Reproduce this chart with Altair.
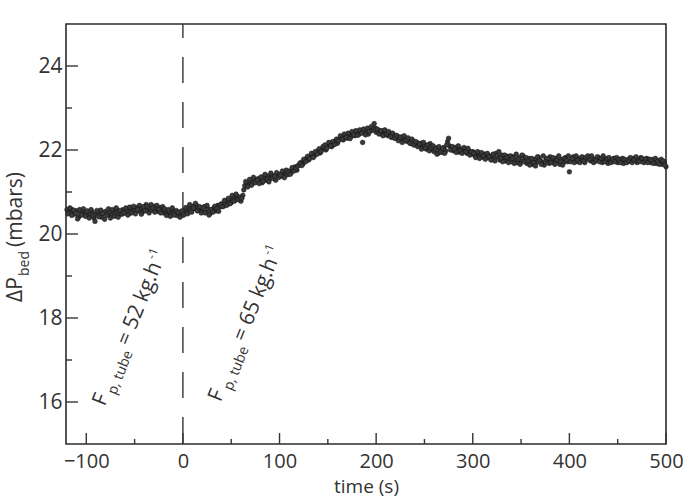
import altair as alt
import pandas as pd

# ---- data ----
# samples on even seconds
time_even = list(range(-120, 501, 2))
dp_even = [
    20.58, 20.55, 20.60, 20.52, 20.47, 20.55, 20.40, 20.50, 20.53, 20.46,
    20.50, 20.42, 20.48, 20.53, 20.38, 20.47, 20.52, 20.45, 20.40, 20.50,
    20.54, 20.46, 20.51, 20.44, 20.55, 20.49, 20.57, 20.46, 20.52, 20.58,
    20.50, 20.55, 20.48, 20.60, 20.53, 20.57, 20.63, 20.55, 20.60, 20.52,
    20.62, 20.70, 20.58, 20.64, 20.56, 20.66, 20.60, 20.54, 20.63, 20.57,
    20.50, 20.56, 20.48, 20.53, 20.46, 20.55, 20.50, 20.44, 20.52, 20.47,
    20.50, 20.58, 20.52, 20.62, 20.55, 20.66, 20.60, 20.68, 20.57, 20.63,
    20.55, 20.65, 20.52, 20.60, 20.48, 20.57, 20.62, 20.55, 20.68, 20.64,
    20.72, 20.66, 20.78, 20.70, 20.82, 20.75, 20.86, 20.80, 20.90, 20.84,
    20.78, 20.92, 21.15, 21.22, 21.18, 21.26, 21.20, 21.30, 21.24, 21.32,
    21.27, 21.22, 21.35, 21.28, 21.38, 21.31, 21.40, 21.34, 21.28, 21.42,
    21.36, 21.44, 21.38, 21.46, 21.41, 21.50, 21.45, 21.55, 21.60, 21.52,
    21.64, 21.70, 21.66, 21.74, 21.80, 21.76, 21.84, 21.90, 21.86, 21.94,
    21.98, 21.93, 22.02, 22.06, 22.00, 22.10, 22.14, 22.08, 22.18, 22.22,
    22.16, 22.26, 22.30, 22.24, 22.33, 22.28, 22.36, 22.32, 22.40, 22.34,
    22.42, 22.37, 22.44, 22.18, 22.40, 22.46, 22.38, 22.45, 22.50, 22.63,
    22.42, 22.48, 22.40, 22.45, 22.36, 22.42, 22.34, 22.40, 22.30, 22.36,
    22.28, 22.33, 22.25, 22.31, 22.22, 22.28, 22.20, 22.25, 22.15, 22.22,
    22.12, 22.18, 22.10, 22.16, 22.06, 22.12, 22.02, 22.08, 22.15, 22.00,
    21.96, 22.05, 21.92, 22.00, 21.94, 22.06, 21.98, 22.20, 22.10, 22.04,
    21.98, 22.06, 22.00, 21.95, 22.03, 21.97, 22.02, 21.92, 21.98, 21.90,
    21.96, 21.87, 21.93, 21.85, 21.91, 21.83, 21.90, 21.82, 21.88, 21.80,
    21.86, 21.78, 21.92, 21.84, 21.76, 21.88, 21.80, 21.74, 21.85, 21.78,
    21.72, 21.84, 21.76, 21.70, 21.82, 21.74, 21.86, 21.77, 21.68, 21.80,
    21.73, 21.66, 21.78, 21.70, 21.83, 21.75, 21.69, 21.64, 21.78, 21.72,
    21.84, 21.76, 21.70, 21.80, 21.74, 21.66, 21.78, 21.70, 21.82, 21.72,
    21.48, 21.76, 21.84, 21.78, 21.72, 21.80, 21.75, 21.82, 21.70, 21.78,
    21.84, 21.74, 21.80, 21.72, 21.78, 21.82, 21.76, 21.70, 21.79, 21.74,
    21.68, 21.76, 21.72, 21.80, 21.74, 21.70, 21.78, 21.73, 21.68, 21.76,
    21.71, 21.78, 21.73, 21.80, 21.75, 21.70, 21.78, 21.82, 21.76, 21.72,
    21.80, 21.74, 21.70, 21.77, 21.73, 21.68, 21.75, 21.70, 21.66, 21.72,
    21.60,
]
# samples on odd seconds
time_odd = list(range(-119, 500, 2))
dp_odd = [
    20.48, 20.62, 20.44, 20.57, 20.50, 20.36, 20.58, 20.45, 20.60, 20.42,
    20.55, 20.38, 20.58, 20.43, 20.30, 20.56, 20.41, 20.57, 20.49, 20.35,
    20.44, 20.60, 20.38, 20.58, 20.42, 20.62, 20.40, 20.56, 20.47, 20.50,
    20.62, 20.45, 20.64, 20.50, 20.66, 20.48, 20.58, 20.68, 20.47, 20.65,
    20.55, 20.66, 20.50, 20.70, 20.62, 20.52, 20.68, 20.58, 20.50, 20.65,
    20.60, 20.44, 20.58, 20.42, 20.62, 20.45, 20.56, 20.52, 20.40, 20.55,
    20.45, 20.63, 20.48, 20.70, 20.52, 20.62, 20.73, 20.55, 20.65, 20.50,
    20.62, 20.50, 20.68, 20.45, 20.58, 20.52, 20.66, 20.60, 20.54, 20.70,
    20.65, 20.80, 20.68, 20.85, 20.72, 20.92, 20.78, 20.95, 20.82, 20.88,
    20.85, 21.05, 21.25, 21.12, 21.30, 21.16, 21.35, 21.22, 21.28, 21.20,
    21.36, 21.25, 21.42, 21.30, 21.24, 21.45, 21.33, 21.38, 21.46, 21.35,
    21.40, 21.50, 21.34, 21.52, 21.47, 21.42, 21.58, 21.50, 21.56, 21.62,
    21.68, 21.63, 21.78, 21.72, 21.85, 21.79, 21.92, 21.82, 21.96, 21.90,
    22.03, 21.96, 22.08, 22.12, 22.04, 22.18, 22.10, 22.20, 22.13, 22.26,
    22.22, 22.34, 22.26, 22.38, 22.30, 22.40, 22.27, 22.44, 22.36, 22.46,
    22.35, 22.48, 22.40, 22.50, 22.36, 22.52, 22.44, 22.56, 22.47, 22.52,
    22.50, 22.38, 22.46, 22.34, 22.48, 22.38, 22.44, 22.32, 22.40, 22.28,
    22.35, 22.22, 22.30, 22.18, 22.34, 22.24, 22.29, 22.16, 22.26, 22.12,
    22.20, 22.08, 22.14, 22.02, 22.18, 22.05, 22.12, 21.98, 22.06, 22.10,
    22.02, 21.90, 22.08, 21.96, 22.04, 21.92, 22.12, 22.28, 22.00, 22.08,
    22.02, 21.94, 22.10, 21.98, 21.92, 22.06, 21.96, 22.04, 21.88, 21.95,
    21.92, 21.82, 21.96, 21.80, 21.94, 21.86, 21.78, 21.92, 21.84, 21.76,
    21.90, 21.74, 21.86, 21.96, 21.80, 21.72, 21.88, 21.82, 21.70, 21.86,
    21.80, 21.68, 21.90, 21.78, 21.66, 21.88, 21.72, 21.82, 21.74, 21.64,
    21.80, 21.70, 21.62, 21.84, 21.74, 21.66, 21.86, 21.72, 21.80, 21.68,
    21.70, 21.82, 21.66, 21.76, 21.86, 21.72, 21.64, 21.80, 21.76, 21.86,
    21.72, 21.80, 21.70, 21.86, 21.76, 21.70, 21.84, 21.74, 21.82, 21.86,
    21.78, 21.86, 21.70, 21.76, 21.84, 21.72, 21.80, 21.86, 21.72, 21.80,
    21.82, 21.70, 21.78, 21.72, 21.82, 21.76, 21.70, 21.80, 21.78, 21.70,
    21.76, 21.82, 21.70, 21.77, 21.84, 21.74, 21.72, 21.80, 21.70, 21.78,
    21.70, 21.78, 21.76, 21.68, 21.80, 21.72, 21.66, 21.78, 21.74, 21.64,
]
assert len(time_even) == len(dp_even)
assert len(time_odd) == len(dp_odd)

x_major = [-100, 0, 100, 200, 300, 400, 500]
x_minor = [-50, 50, 150, 250, 350, 450]
y_major = [16, 18, 20, 22, 24]
y_minor = [17, 19, 21, 23]
switch_time = [0]

ann_labels = ["52", "65"]
ann_t = [-81, 39]
ann_v = [15.88, 15.98]

W, H = 600, 420
FONT = "Open Sans"
INK = "#333333"

xs = alt.Scale(domain=[-121, 500], nice=False, zero=False)
ys = alt.Scale(domain=[15, 25], nice=False, zero=False)

x_axis = alt.Axis(values=x_major, ticks=False, domain=False, grid=False,
                  labelFontSize=20, labelPadding=7, labelFlush=False,
                  title="time (s)", titleFontSize=19, titlePadding=6,
                  titleFontWeight="normal")
y_axis = alt.Axis(values=y_major, ticks=False, domain=False, grid=False,
                  labelFontSize=21, labelPadding=4, labelFlush=False,
                  title=None)

df = pd.DataFrame({"t": time_even + time_odd, "v": dp_even + dp_odd})

X = lambda: alt.X("t:Q", scale=xs, axis=x_axis)
Y = lambda: alt.Y("v:Q", scale=ys, axis=y_axis)

points = alt.Chart(df).mark_circle(
    size=22, color="#3a3a3a", opacity=1, stroke="#111111", strokeWidth=0.5
).encode(x=X(), y=Y())

def xticks(vals, length):
    return alt.Chart(pd.DataFrame({"t": vals})).mark_rule(
        color=INK, strokeWidth=1.4
    ).encode(x=X(), y=alt.value(H), y2=alt.value(H - length))

def yticks(vals, length):
    return alt.Chart(pd.DataFrame({"v": vals})).mark_rule(
        color=INK, strokeWidth=1.4
    ).encode(y=Y(), x=alt.value(0), x2=alt.value(length))

dashed = alt.Chart(pd.DataFrame({"t": switch_time})).mark_rule(
    color=INK, strokeWidth=1.4, strokeDash=[26, 19], strokeDashOffset=12
).encode(x=X())

layers = [points, xticks(x_major, 11), xticks(x_minor, 5),
          yticks(y_major, 12), yticks(y_minor, 6), dashed]

# rotated annotations, built from pieces (main text, subscript, superscript)
ANG = 292
for lab, t0, v0 in zip(ann_labels, ann_t, ann_v):
    anchor = pd.DataFrame({"t": [t0], "v": [v0]})
    pieces = [("F", 0, 0, 21), ("p, tube", 15, 6, 14),
              ("= " + lab + " kg.h", 65, 0, 21), ("-1", 155, -9, 12)]
    for txt, dx, dy, fs in pieces:
        layers.append(alt.Chart(anchor).mark_text(
            text=txt, angle=ANG, align="left", baseline="alphabetic",
            dx=dx, dy=dy, fontSize=fs, font=FONT, color=INK
        ).encode(x=X(), y=Y()))

# y-axis title with subscript
ytitle_pieces = [("ΔP", 0, 0, 21), ("bed", 26, 7, 14), ("(mbars)", 55, 0, 21)]
for txt, dx, dy, fs in ytitle_pieces:
    layers.append(alt.Chart(pd.DataFrame({"a": [0]})).mark_text(
        text=txt, angle=270, align="left", baseline="alphabetic",
        dx=dx, dy=dy, fontSize=fs, font=FONT, color=INK
    ).encode(x=alt.value(-44), y=alt.value(278)))

chart = alt.layer(*layers).properties(
    width=W, height=H,
    autosize=alt.AutoSizeParams(type="none"),
    padding={"left": 66, "top": 24, "right": 33, "bottom": 55},
).configure_view(
    stroke="#2b2b2b", strokeWidth=1.6
).configure_axis(
    labelFont=FONT, titleFont=FONT, labelColor=INK, titleColor=INK
)

chart.save("out.html", embed_options={"renderer": "svg", "actions": False})
